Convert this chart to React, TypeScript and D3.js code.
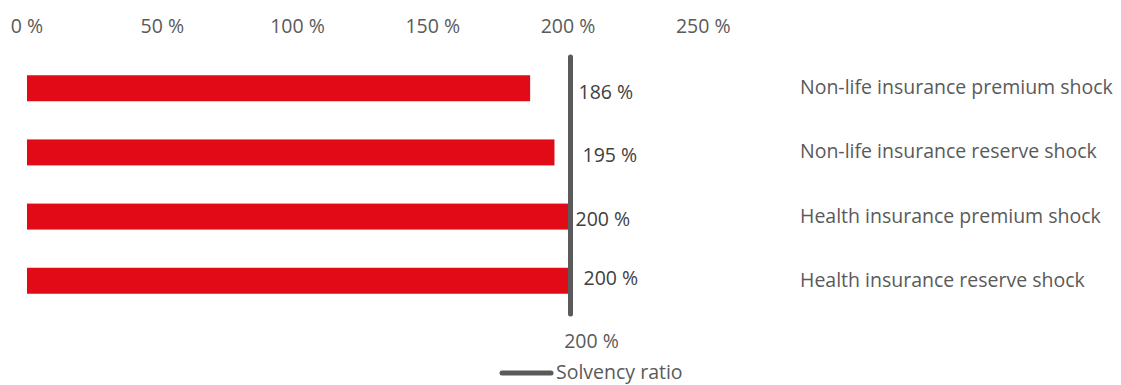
import React from "react";
import * as d3 from "d3";

const categories = [
  "Non-life insurance premium shock",
  "Non-life insurance reserve shock",
  "Health insurance premium shock",
  "Health insurance reserve shock",
];
const values = [186, 195, 200, 200];
const valueLabels = ["186 %", "195 %", "200 %", "200 %"];
const solvencyRatio = 200;
const solvencyLabel = "200 %";
const ticks = [0, 50, 100, 150, 200, 250];
const legendLabel = "Solvency ratio";

const W = 1121;
const H = 385;
const FONT = "'Open Sans', 'Noto Sans', sans-serif";
const FS = 19.5;
const RED = "#E20A17";
const GREY = "#5A5A5A";
const TEXT = "#404040";
const labelDx = [8, 12, 5, 13];
const labelDy = [3, 2, 1.5, -3];

export default function App() {
  const x = d3.scaleLinear().domain([0, 200]).range([27, 568]);
  const y = d3
    .scaleBand<string>()
    .domain(categories)
    .range([56, 313])
    .paddingInner(0.595)
    .paddingOuter(0.3);
  const lineX = x(solvencyRatio) + 2.5;
  return (
    <svg
      width={W}
      height={H}
      style={{ position: "absolute", left: 0, top: 0 }}
      fontFamily={FONT}
    >
      {ticks.map((t) => (
        <text
          key={t}
          x={x(t)}
          y={25}
          textAnchor="middle"
          dominantBaseline="central"
          fontSize={FS}
          fill={GREY}
        >
          {t} %
        </text>
      ))}
      {categories.map((c, i) => (
        <g key={c}>
          <rect
            x={x(0)}
            y={y(c)!}
            width={x(values[i]) - x(0)}
            height={y.bandwidth()}
            fill={RED}
          />
          <text
            x={lineX + labelDx[i]}
            y={y(c)! + y.bandwidth() / 2 + labelDy[i]}
            dominantBaseline="central"
            fontSize={FS}
            fill={TEXT}
          >
            {valueLabels[i]}
          </text>
          <text
            x={800}
            y={y(c)! + y.bandwidth() / 2 - 1.5}
            dominantBaseline="central"
            fontSize={FS}
            fill={GREY}
          >
            {c}
          </text>
        </g>
      ))}
      <line
        x1={lineX}
        x2={lineX}
        y1={57}
        y2={314}
        stroke={GREY}
        strokeWidth={5}
        strokeLinecap="round"
      />
      <text
        x={lineX + 21}
        y={340}
        textAnchor="middle"
        dominantBaseline="central"
        fontSize={FS}
        fill={GREY}
      >
        {solvencyLabel}
      </text>
      <line
        x1={502}
        x2={551}
        y1={373}
        y2={373}
        stroke={GREY}
        strokeWidth={5}
        strokeLinecap="round"
      />
      <text
        x={556}
        y={371}
        dominantBaseline="central"
        fontSize={FS}
        fill={GREY}
      >
        {legendLabel}
      </text>
    </svg>
  );
}
